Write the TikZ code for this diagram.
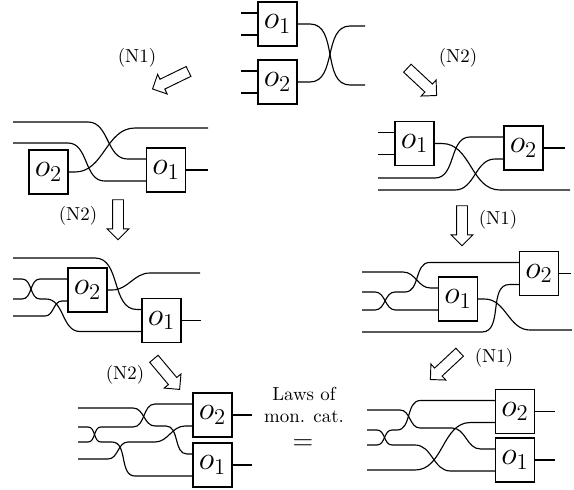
\documentclass[tikz,border=0pt]{standalone}
\usepackage{amsmath}
\usepackage{tikz}
\usetikzlibrary{calc,shapes.arrows}
\tikzset{
gate/.style={draw,rectangle,minimum width=20.67pt,minimum height=23.32pt,inner sep=0pt,outer sep=0pt,font=\LARGE},
wire/.style={out=0,in=180},
rewrite/.style={draw,single arrow,inner sep=2.65pt,single arrow head extend=2.9pt,single arrow head indent=0pt,minimum height=21.2pt,line width=0.5pt}
}
\def\gate#1#2#3{
\node[gate] (#1) at (#2) {$o_{#3}$};
\coordinate (#1u) at ($(#1.north west)!.25!(#1.south west)$);
\coordinate (#1d) at ($(#1.north west)!.75!(#1.south west)$);
}

\begin{document}
\begin{tikzpicture}[x=0.53pt,y=-0.53pt,line width=0.6pt]
	\useasboundingbox (0,0) rectangle (574,489);
	\gate{T1}{277.5,24}{1}
	\gate{T2}{277.5,82}{2}
	\coordinate (Ta) at ($(T1u)-(17,0)$);
	\coordinate (Tb) at ($(T1d)-(17,0)$);
	\coordinate (Tc) at ($(T2u)-(17,0)$);
	\coordinate (Td) at ($(T2d)-(17,0)$);
	\coordinate (Tr1) at (365,26);
	\coordinate (Tr2) at (365,85);
	\draw (Ta) -- (T1u);
	\draw (Tb) -- (T1d);
	\draw (Tc) -- (T2u);
	\draw (Td) -- (T2d);
	\draw (T1.east) -- ++(13,0) to[wire] ($(Tr2)-(15,0)$) -- (Tr2);
	\draw (T2.east) -- ++(13,0) to[wire] ($(Tr1)-(15,0)$) -- (Tr1);

	\gate{B2}{48.5,172}{2}
	\gate{B1}{166,170}{1}
	\coordinate (Bl1) at (13,122);
	\coordinate (Bl2) at (13,143);
	\coordinate (Br1) at (208,128);
	\coordinate (Br2) at ($(B1.east)+(22,0)$);
	\draw (Bl1) -- (88,122) to[wire] ($(B1u)-(19,0)$) -- (B1u);
	\draw (Bl2) -- (68,143) to[wire] ($(B1d)-(42,0)$) -- (B1d);
	\draw (B2.east) -- ++(7,0) to[wire] (135,128) -- (Br1);
	\draw (B1.east) -- (Br2);

	\gate{C2}{87.5,290}{2}
	\gate{C1}{161.5,320.5}{1}
	\coordinate (Cl0) at (13,258);
	\coordinate (Cl1) at (13,279);
	\coordinate (Cl2) at (13,299);
	\coordinate (Cl3) at (13,316);
	\coordinate (Cr1) at (200,273);
	\coordinate (Cr2) at ($(C1.east)+(20,0)$);
	\draw (Cl0) -- (95,258) to[wire] ($(C1u)-(5,0)$) -- (C1u);
	\draw (Cl1) -- (22,279) to[wire] (40,299) -- (46,299) to[wire] ($(C1d)-(62,0)$) -- (C1d);
	\draw (Cl2) -- (22,299) to[wire] ($(C2u)-(28,0)$) -- (C2u);
	\draw (Cl3) -- (45,316) to[wire] ($(C2d)-(6,0)$) -- (C2d);
	\draw (C2.east) -- ++(5,0) to[wire] (150,273) -- (Cr1);
	\draw (C1.east) -- (Cr2);

	\gate{D1}{414.5,143.5}{1}
	\gate{D2}{523.5,148}{2}
	\coordinate (Da) at ($(D1u)-(17,0)$);
	\coordinate (Db) at ($(D1d)-(17,0)$);
	\coordinate (Dl1) at (378,178);
	\coordinate (Dl2) at (378,190);
	\coordinate (Dr1) at ($(D2.east)+(22,0)$);
	\coordinate (Dr2) at (570,190);
	\draw (Da) -- (D1u);
	\draw (Db) -- (D1d);
	\draw (D1.east) -- ++(8,0) to[wire] (500,190) -- (Dr2);
	\draw (Dl1) -- (435,178) to[wire] ($(D2u)-(34,0)$) -- (D2u);
	\draw (Dl2) -- (455,190) to[wire] ($(D2d)-(9,0)$) -- (D2d);
	\draw (D2.east) -- (Dr1);

	\gate{E2}{539,273.5}{2}
	\gate{E1}{458,299}{1}
	\coordinate (El1) at (362,272);
	\coordinate (El2) at (362,292);
	\coordinate (El3) at (362,310);
	\coordinate (El4) at (362,332);
	\coordinate (Er1) at ($(E2.east)+(12,0)$);
	\coordinate (Er2) at (572,330);
	\draw (El1) -- (403,272) to[wire] ($(E1u)-(8,0)$) -- (E1u);
	\draw (El2) -- (375,292) to[wire] ($(E1d)-(43,0)$) -- (E1d);
	\draw (El3) -- (375,310) to[wire] (395,292) -- (405,292) to[wire] ($(E2u)-(90,0)$) -- (E2u);
	\draw (El4) -- (482,332) to[wire] ($(E2d)-(10,0)$) -- (E2d);
	\draw (E1.east) -- ++(7,0) to[wire] (530,330) -- (Er2);
	\draw (E2.east) -- (Er1);

	\gate{F2}{212.5,415}{2}
	\gate{F1}{212.5,465}{1}
	\coordinate (Fl1) at (78,408);
	\coordinate (Fl2) at (78,427);
	\coordinate (Fl3) at (78,442);
	\coordinate (Fl4) at (78,459);
	\coordinate (Fr1) at ($(F2.east)+(20,0)$);
	\coordinate (Fr2) at ($(F1.east)+(20,0)$);
	\draw (Fl1) -- (133,408) to[wire] (155,426) -- (166,426) to[wire] ($(F1u)-(6,0)$) -- (F1u);
	\draw (Fl2) -- (88,427) to[wire] (101,442) -- (112,442) to[wire] ($(F1d)-(58,0)$) -- (F1d);
	\draw (Fl3) -- (88,442) to[wire] (101,427) -- (133,427) to[wire] ($(F2u)-(38,0)$) -- (F2u);
	\draw (Fl4) -- (108,459) to[wire] (128,442) -- (155,442) to[wire] ($(F2d)-(8,0)$) -- (F2d);
	\draw (F2.east) -- (Fr1);
	\draw (F1.east) -- (Fr2);

	\gate{G2}{515,411.5}{2}
	\gate{G1}{515,460}{1}
	\coordinate (Gl1) at (367,410);
	\coordinate (Gl2) at (367,430);
	\coordinate (Gl3) at (367,445);
	\coordinate (Gl4) at (367,470);
	\coordinate (Gr1) at ($(G2.east)+(20,0)$);
	\coordinate (Gr2) at ($(G1.east)+(20,0)$);
	\draw (Gl1) -- (400,410) to[wire] (420,428) -- (452,428) to[wire] ($(G1u)-(15,0)$) -- (G1u);
	\draw (Gl2) -- (377,430) to[wire] (392,445) -- (415,445) to[wire] ($(G1d)-(45,0)$) -- (G1d);
	\draw (Gl3) -- (377,445) to[wire] (392,430) -- (397,430) to[wire] ($(G2u)-(75,0)$) -- (G2u);
	\draw (Gl4) -- (415,470) to[wire] ($(G2d)-(25,0)$) -- (G2d);
	\draw (G2.east) -- (Gr1);
	\draw (G1.east) -- (Gr2);

	\node[rewrite,rotate=206] (ar1) at (173,79) {};
	\node[rewrite,rotate=-43] (ar2) at (420,80) {};
	\node[rewrite,rotate=-90] (ar3) at (118,217) {};
	\node[rewrite,rotate=-90] (ar4) at (462,223) {};
	\node[rewrite,rotate=-50] (ar5) at (165,372) {};
	\node[rewrite,rotate=223] (ar6) at (447,364) {};
	\node (lb1) at (137,58) {(N1)};
	\node (lb2) at (458,58) {(N2)};
	\node (lb3) at (78,216) {(N2)};
	\node (lb4) at (498,220) {(N1)};
	\node (lb5) at (125,375) {(N2)};
	\node (lb6) at (494,358) {(N1)};
	\node[align=center] (laws) at (304,405) {Laws of\\mon. cat.};
	\node[inner sep=1pt] (eq) at (303,445) {\Large$=$};
\end{tikzpicture}
\end{document}
